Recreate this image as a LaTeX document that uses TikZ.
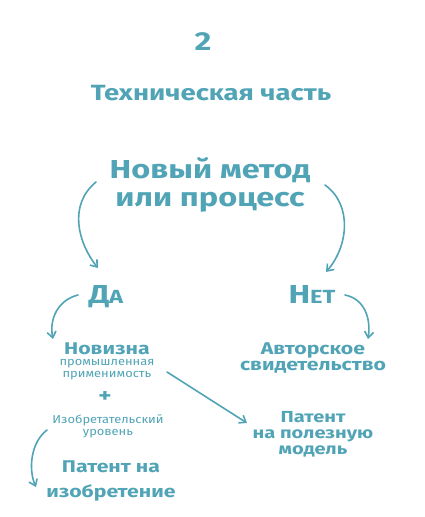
\documentclass[tikz,border=0pt]{standalone}
\usepackage{fontspec}
\setmainfont{Fira Sans}[FakeStretch=1.25]
\newfontfamily\thinfont{Fira Sans}[FakeStretch=1.12]
\usetikzlibrary{arrows.meta,positioning}
\definecolor{teal1}{RGB}{80,164,182}
\tikzset{
    heading/.style={
    anchor=base,text=teal1,font=\bfseries\fontsize{22}{22}\selectfont
    },
    bigtxt/.style={
    anchor=base,text=teal1,align=center,font=\bfseries\fontsize{26}{28}\selectfont
    },
    midtxt/.style={
    anchor=base,text=teal1,align=center,font=\bfseries\fontsize{17}{16}\selectfont
    },
    smalltxt/.style={
    anchor=base,text=teal1,align=center,font=\thinfont\fontsize{11.5}{11.5}\selectfont
    },
    brush/.style={
    draw=teal1,line width=1.6pt,line cap=round,-{Straight Barb[length=6pt,width=9pt]}
    },
}

\begin{document}
\begin{tikzpicture}[x=1pt,y=-1pt]
   \useasboundingbox (0,0) rectangle (424,517);

   \node[bigtxt] (num) at (203,50) {2};
   \node[heading] (part) at (211,100) {Техническая часть};

   %question
   \node[bigtxt] (method) at (210,206) {Новый метод\\или процесс};

   %answers
   \node[bigtxt] (yes) at (106,303) {Д{\fontsize{19}{19}\selectfont А}};
   \node[bigtxt] (no) at (312,303) {Н{\fontsize{19}{19}\selectfont ЕТ}};

   %yes branch
   \node[midtxt] (novelty) at (107,354) {Новизна};
   \node[smalltxt] (industry) at (107,377) {промышленная\\применимость};
   \node[anchor=center,text=teal1,font=\bfseries\fontsize{20}{20}\selectfont] (plus) at (105,397) {+};
   \node[smalltxt] (inventive) at (108,435) {Изобретательский\\уровень};
   \node[midtxt,font=\bfseries\fontsize{17}{25}\selectfont] (invent) at (111,497) {Патент на\\изобретение};

   %no branch
   \node[midtxt] (author) at (313,370) {Авторское\\свидетельство};

   %utility model
   \node[midtxt,font=\bfseries\fontsize{16}{16}\selectfont] (util) at (313,454) {Патент\\на полезную\\модель};

   \draw[brush] ([shift={(-114,-24)}]method.base) .. controls +(-28,23) and +(-20,-25) .. ([shift={(-8,-35)}]yes.base);
   \draw[brush] ([shift={(115,-21)}]method.base) .. controls +(28,20) and +(22,-25) .. ([shift={(14,-31)}]no.base);
   \draw[brush] ([shift={(-28,-8)}]yes.base) .. controls +(-20,5) and +(-4,-20) .. ([shift={(-54,-15)}]novelty.base);
   \draw[brush] ([shift={(33,-8)}]no.base) .. controls +(20,4) and +(3,-20) .. ([shift={(55,-31)}]author.base);
   \draw[brush] ([shift={(-61,-5)}]inventive.base) .. controls +(-16,12) and +(-8,-18) .. ([shift={(-75,-10)}]invent.base);
   \draw[brush] ([shift={(60,-5)}]industry.base) -- ([shift={(-66,-31)}]util.base);
\end{tikzpicture}
\end{document}
